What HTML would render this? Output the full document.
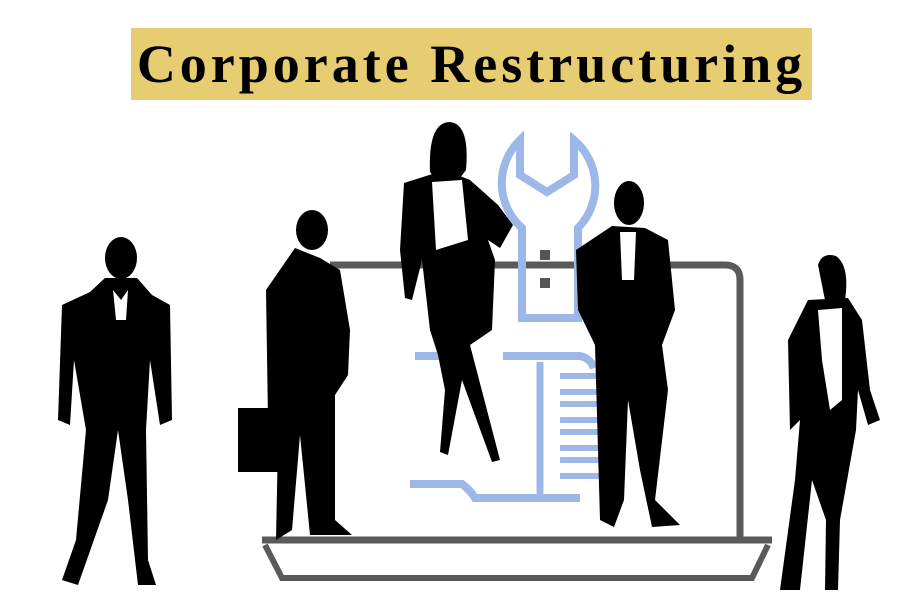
<!DOCTYPE html>
<html><head><meta charset="utf-8"><style>
html,body{margin:0;padding:0;background:#fff;width:900px;height:600px;overflow:hidden}
#title{position:absolute;left:131px;top:28px;width:681px;height:72px;background:#e6cd72;display:flex;align-items:center;justify-content:center;font-family:"Liberation Serif",serif;font-weight:bold;font-size:54px;color:#000;letter-spacing:4px}
svg{position:absolute;left:0;top:0}
</style></head><body>
<svg width="900" height="600">
<g fill="none" stroke="#5a5a5a" stroke-width="7">
<path d="M330,265 H725 Q740,265 740,280 V537"/>
<path d="M262,540 H772"/>
<path d="M265,545 L282,578 H752 L768,545" stroke-width="6"/>
</g>
<g fill="none" stroke="#9db8e8" stroke-width="8">
<path d="M520,140 L520,175 L547,192 L574,175 L574,140 A60,60 0 0 1 578,228 L578,318 L522,318 L522,228 A60,60 0 0 1 520,140 Z"/>
<path d="M415,356 H470 M503,356 H580 Q590,358 594,368"/>
<path d="M410,484 H462 Q470,490 475,498 H580"/>
<path d="M540,362 V498" stroke-width="7"/>
<path d="M560,376 h40 a8,8 0 0 1 0,16 h-40 M560,404 h45 a8,8 0 0 1 0,16 h-45 M560,432 h45 a8,8 0 0 1 0,16 h-45 M560,460 h40 a8,8 0 0 1 0,16 h-40" stroke-width="6"/>
</g>
<rect x="540" y="250" width="10" height="10" fill="#555"/><rect x="540" y="278" width="10" height="10" fill="#555"/>
<g fill="#000">
<g>
<ellipse cx="121" cy="258" rx="16" ry="21"/>
<path d="M105,278 L137,278 L152,295 L170,305 L172,420 L160,425 L150,360 L146,430 L148,560 L156,585 L138,585 L128,500 L118,430 L108,500 L78,585 L62,580 L76,540 L86,430 L74,360 L70,425 L58,420 L62,305 L90,292 Z"/>
</g>
<g>
<ellipse cx="312" cy="230" rx="16" ry="20"/>
<path d="M295,248 L320,258 L340,270 L350,330 L348,375 L335,395 L335,520 L352,535 L310,535 L300,435 L292,530 L276,540 L278,440 L268,420 L266,290 Z"/>
<rect x="238" y="408" width="42" height="64"/>
</g>
<g>
<path d="M430,172 Q428,122 450,122 Q470,124 466,170 L460,178 L436,180 Z"/>
<path d="M404,183 L445,170 L470,180 L498,205 L513,225 L500,248 L488,240 L495,260 L492,330 L470,345 L500,460 L492,462 L462,380 L448,455 L440,452 L445,390 L438,355 L430,330 L422,260 L412,300 L405,298 L400,250 Z"/>
</g>
<g>
<ellipse cx="629" cy="203" rx="15" ry="22"/>
<path d="M612,226 L645,228 L668,240 L675,310 L662,345 L668,390 L655,500 L680,525 L652,527 L640,470 L628,400 L624,500 L614,527 L600,520 L595,345 L578,310 L576,250 Z"/>
</g>
<g>
<path d="M818,265 Q822,252 836,256 Q850,266 845,300 L825,300 Z"/>
<path d="M808,300 L848,298 L862,320 L870,390 L880,420 L868,425 L858,390 L856,430 L840,520 L838,590 L825,590 L826,520 L812,480 L800,590 L780,590 L795,480 L800,420 L790,430 L788,340 Z"/>
</g>
</g>
<g fill="#fff"><path d="M113,290 L121,300 L128,290 L126,320 L116,320 Z"/><path d="M432,182 L462,180 L468,240 L436,250 Z"/><path d="M620,232 L636,232 L634,280 L622,280 Z"/><path d="M818,310 L842,308 L842,400 L830,410 L822,360 Z"/></g>
</svg>
<div id="title">Corporate Restructuring</div>
</body></html>
